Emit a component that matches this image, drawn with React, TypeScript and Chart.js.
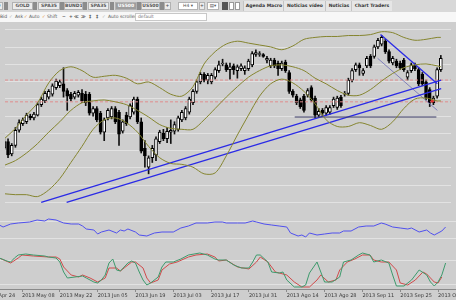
import React, { useEffect, useRef } from "react";
import { Chart, registerables } from "chart.js";

Chart.register(...registerables);

// ---------- data ----------
const FIRST_BAR = 4;
const openP = [7800,7870,7740,7830,7990,8060,8080,8140,8120,8150,
8260,8300,8340,8370,8440,8460,8480,8410,8370,8340,
8360,8380,8370,8370,8170,8220,8170,7970,8120,8130,
8220,8180,7980,8150,8130,8180,8320,8080,7800,7600,
7700,7730,7870,7960,7900,7970,7980,8000,8100,8120,
8180,8280,8400,8500,8580,8520,8500,8550,8620,8690,
8680,8630,8670,8620,8640,8620,8640,8680,8790,8790,
8790,8730,8670,8730,8700,8640,8710,8600,8400,8350,
8310,8350,8360,8440,8330,8150,8200,8170,8180,8250,
8230,8340,8370,8380,8520,8630,8680,8590,8670,8770,
8770,8870,8900,8930,8820,8700,8720,8700,8730,8550,
8620,8680,8630,8580,8500,8420,8280,8350,8630];
const highP = [7900,7900,7850,8020,8100,8120,8170,8160,8180,8280,
8340,8400,8420,8480,8530,8520,8650,8430,8390,8400,
8410,8420,8400,8390,8240,8240,8190,8120,8220,8240,
8240,8200,8100,8180,8270,8340,8340,8120,7880,7720,
7830,7920,7990,8000,8020,8100,8080,8140,8200,8240,
8340,8420,8520,8600,8600,8590,8590,8650,8720,8740,
8700,8700,8690,8680,8690,8670,8740,8820,8840,8820,
8800,8770,8750,8750,8720,8720,8730,8620,8420,8370,
8330,8370,8430,8460,8350,8220,8220,8250,8250,8340,
8350,8360,8400,8540,8640,8700,8700,8640,8770,8790,
8890,8960,8990,8950,8840,8770,8740,8720,8750,8620,
8700,8700,8650,8600,8520,8440,8350,8650,8780];
const lowP = [7780,7700,7720,7810,7970,8040,8060,8100,8100,8140,
8240,8280,8320,8350,8420,8440,8340,8200,8300,8320,
8340,8280,8250,8150,8140,8080,7950,7880,8100,8110,
8060,7830,7960,8040,8110,8160,8060,7750,7600,7530,
7650,7670,7850,7880,7860,7850,7950,7980,8080,8100,
8160,8260,8380,8480,8500,8480,8480,8530,8600,8670,
8610,8530,8580,8540,8620,8580,8620,8660,8770,8770,
8760,8700,8650,8650,8570,8620,8600,8380,8340,8260,
8220,8180,8340,8290,8120,8130,8140,8150,8160,8230,
8210,8230,8350,8360,8500,8610,8570,8570,8650,8650,
8750,8850,8880,8800,8700,8680,8650,8630,8610,8520,
8600,8620,8460,8460,8310,8240,8260,8330,8610];
const closeP = [7870,7730,7830,7990,8070,8100,8150,8120,8160,8260,
8320,8380,8400,8460,8510,8500,8400,8350,8320,8380,
8390,8300,8280,8170,8220,8100,7970,8100,8200,8220,
8080,7950,8080,8060,8250,8320,8080,7770,7720,7700,
7800,7900,7970,7900,7980,7990,8050,8120,8180,8220,
8320,8400,8500,8580,8520,8570,8570,8630,8680,8700,
8630,8660,8630,8660,8670,8650,8720,8800,8810,8800,
8770,8750,8730,8670,8640,8700,8620,8400,8360,8280,
8240,8200,8410,8310,8150,8190,8170,8230,8230,8320,
8330,8250,8380,8520,8620,8680,8650,8620,8750,8670,
8870,8940,8970,8820,8720,8750,8670,8650,8630,8600,
8680,8640,8480,8480,8330,8280,8330,8630,8750];
const barIdx = openP.map((_, k) => FIRST_BAR + k);

const tickIdx = [0, 10, 20, 30, 40, 50, 60, 70, 80, 90, 100, 110, 120];
const tickLabels = ["2013 Apr 24", "2013 May 08", "2013 May 22", "2013 Jun 05", "2013 Jun 19", "2013 Jul 03", "2013 Jul 17", "2013 Jul 31", "2013 Ago 14", "2013 Ago 28", "2013 Sep 11", "2013 Sep 25", "2013 Oct 09"];

const bandIdx = [4,7,10,13,16,19,22,25,28,31,34,37,40,43,46,49,52,55,58,61,64,67,70,73,76,79,82,85,88,91,94,97,100,103,106,109,112,115,118,121,122];
const bandUpper = [7900,8010,8150,8280,8490,8620,8660,8620,8550,8560,8570,8540,8480,8500,8440,8370,8350,8450,8690,8820,8900,8930,8910,8890,8870,8840,8880,8950,8970,8980,8980,8990,8990,9000,9030,9020,8970,8940,8950,8970,8970];
const bandMiddle = [7620,7670,7750,7850,7970,8080,8200,8280,8300,8310,8290,8260,8200,8130,8050,8010,8000,8000,8100,8220,8340,8450,8550,8620,8670,8680,8660,8620,8540,8480,8410,8360,8360,8420,8510,8590,8650,8680,8690,8670,8660];
const bandLower = [7320,7310,7310,7290,7360,7480,7650,7820,8000,8100,8120,8070,7970,7820,7700,7640,7630,7600,7530,7540,7720,7940,8150,8350,8480,8530,8490,8400,8270,8100,8030,8030,8070,8040,8000,8080,8220,8320,8330,8300,8300];

const priceGrid = [7230, 7412, 7594, 7776, 7958, 8140, 8322, 8504, 8686, 8868, 9050];
const levelPrices = [8520, 8290];
const trendAIdx = [13.96, 122.1];
const trendAPrice = [7230, 8520];
const trendBIdx = [20.84, 122.1];
const trendBPrice = [7230, 8430];
const downIdx = [105.7, 121.06];
const downPrice = [9000, 8480];
const channelIdx = [104.9, 121.06];
const channelPrice = [8750, 8200];
const supportIdx = [82.5, 120.8];
const supportPrice = [8130, 8130];
const markerIdx = [119.7];
const markerPrice = [8300];

const rsiIdx = [4,5,7,9,12,14,16,17,19,21,23,25,26,27,29,30,31,33,35,36,37,38,40,41,43,45,47,50,52,54,56,59,61,63,64,67,69,71,72,74,76,78,80,81,83,84,85,86,88,90,92,94,95,97,99,101,103,105,106,108,110,112,113,115,117,118,119,121,122];
const rsiVal = [62.5,57.5,65,67.5,70,75,72.5,77.5,75,67.5,65,65,60,52.5,50,40,45,50,42.5,50,47.5,52.5,45,37.5,35,42.5,45,45,55,60,67.5,67.5,70,70,67.5,67.5,67.5,72.5,70,65,62.5,60,57.5,42.5,35,37.5,32.5,42.5,37.5,40,42.5,42.5,47.5,47.5,57.5,60,60,67.5,65,57.5,55,52.5,55,45,50,42.5,37.5,47.5,57.5];
const rsiGrid = [30, 70];

const stochKIdx = [4,6,7,8,9,11,13,16,17,19,20,21,22,24,26,27,29,30,31,32,33,34,35,36,37,38,39,40,41,42,43,44,46,47,48,50,52,54,57,59,61,62,64,66,68,70,71,72,73,75,76,78,79,80,82,84,85,86,88,89,90,92,94,95,97,99,100,102,103,105,107,108,109,111,113,115,117,118,119,120,121,122];
const stochK = [85,77.5,75,85,92.5,95,92.5,90,87.5,85,75,50,35,37.5,40,35,25,22.5,30,42.5,72.5,82.5,55,52.5,62.5,72.5,77.5,72.5,50,30,17.5,22.5,37.5,62.5,75,75,82.5,92.5,97.5,92.5,82.5,80,80,67.5,60,60,75,92.5,92.5,75,50,47.5,50,30,12.5,12.5,17.5,47.5,75,50,25,25,37.5,75,80,92.5,97.5,92.5,75,80,72.5,42.5,15,15,30,55,42.5,25,15,25,42.5,72.5];
const stochDIdx = [4,7,9,10,13,17,19,20,21,23,25,26,28,30,32,33,35,36,37,39,40,42,43,44,46,47,49,51,54,56,59,61,62,64,67,70,72,73,75,77,78,80,82,84,86,88,89,91,93,94,96,98,100,102,103,105,107,109,110,112,114,116,117,119,120,121];
const stochD = [85,72.5,85,92.5,90,87.5,87.5,82.5,62.5,42.5,37.5,42.5,35,25,35,60,60,52.5,60,75,75,60,35,22.5,30,55,70,75,87.5,92.5,95,87.5,77.5,80,62.5,57.5,75,87.5,75,50,47.5,42.5,25,12.5,12.5,30,42.5,25,30,55,75,82.5,92.5,92.5,80,75,75,55,22.5,17.5,30,50,45,25,22.5,37.5];
const stochGrid = [20, 80];

// ---------- layout ----------
const W = 456;
const X_MIN = 4.18;
const X_MAX = 124.75;
const FONT = "'DejaVu Sans', Verdana, sans-serif";
const GRID = "#e2e2e2";

function lineDs(xs: number[], ys: number[], color: string, width: number, extra: any = {}) {
  return {
    type: "line",
    data: xs.map((x, k) => ({ x, y: ys[k] })),
    borderColor: color,
    backgroundColor: color,
    borderWidth: width,
    pointRadius: 0,
    fill: false,
    tension: 0,
    order: 0,
    ...extra,
  };
}

function yScale(min: number, max: number, grid: number[]) {
  return {
    type: "linear",
    min,
    max,
    beginAtZero: false,
    position: "right",
    grid: { color: GRID, drawTicks: false, lineWidth: 1 },
    border: { display: false },
    ticks: { display: false },
    afterBuildTicks: (s: any) => {
      s.ticks = grid.map((v) => ({ value: v }));
    },
    afterFit: (s: any) => {
      s.width = 0;
    },
  };
}

function hiddenX() {
  return { type: "linear", min: X_MIN, max: X_MAX, offset: false, display: false };
}

function baseOpts(scales: any) {
  return {
    animation: false,
    responsive: false,
    maintainAspectRatio: false,
    devicePixelRatio: 1,
    events: [],
    layout: { padding: 0 },
    plugins: { legend: { display: false }, tooltip: { enabled: false } },
    scales,
  };
}

function useChart(ref: any, makeConfig: () => any) {
  useEffect(() => {
    const c = new Chart(ref.current, makeConfig());
    return () => c.destroy();
  }, []);
}

function PriceChart() {
  const ref = useRef<HTMLCanvasElement>(null);
  useChart(ref, () => ({
    type: "bar",
    data: {
      datasets: [
        {
          type: "bar",
          data: barIdx.map((x, k) => ({ x, y: [lowP[k], highP[k]] })),
          backgroundColor: "#111111",
          barThickness: 1,
          grouped: false,
          order: 5,
        },
        {
          type: "bar",
          data: barIdx.map((x, k) => ({ x, y: [openP[k], closeP[k]] })),
          backgroundColor: barIdx.map((_, k) => (closeP[k] > openP[k] ? "#ffffff" : "#000000")),
          borderColor: "#000000",
          borderWidth: 1,
          borderSkipped: false,
          barThickness: 3,
          grouped: false,
          order: 4,
        },
        lineDs(bandIdx, bandUpper, "#85852f", 1, { tension: 0.3 }),
        lineDs(bandIdx, bandMiddle, "#85852f", 1, { tension: 0.3 }),
        lineDs(bandIdx, bandLower, "#85852f", 1, { tension: 0.3 }),
        lineDs([X_MIN, X_MAX], [levelPrices[0], levelPrices[0]], "#e08c8c", 1, { borderDash: [3, 2], order: 3 }),
        lineDs([X_MIN, X_MAX], [levelPrices[1], levelPrices[1]], "#e08c8c", 1, { borderDash: [3, 2], order: 3 }),
        lineDs(supportIdx, supportPrice, "#3a3a66", 1),
        lineDs(trendAIdx, trendAPrice, "#2a2ae6", 1.3),
        lineDs(trendBIdx, trendBPrice, "#2a2ae6", 1.3),
        lineDs(downIdx, downPrice, "#2a2ae6", 1.3),
        lineDs(channelIdx, channelPrice, "#6c6cb4", 0.8),
        {
          type: "scatter",
          data: markerIdx.map((x, k) => ({ x, y: markerPrice[k] })),
          pointStyle: "rect",
          pointRadius: 1.5,
          backgroundColor: "#e03030",
          borderColor: "#e03030",
          order: 0,
        },
      ],
    },
    options: baseOpts({ x: hiddenX(), y: yScale(7180, 9080, priceGrid) }),
  }));
  return <canvas ref={ref} width={W} height={190} style={{ position: "absolute", left: 0, top: 22, width: W, height: 190 }} />;
}

function RsiChart() {
  const ref = useRef<HTMLCanvasElement>(null);
  useChart(ref, () => ({
    type: "line",
    data: { datasets: [lineDs(rsiIdx, rsiVal, "#5050ee", 1)] },
    options: baseOpts({ x: hiddenX(), y: yScale(12.5, 95, rsiGrid) }),
  }));
  return <canvas ref={ref} width={W} height={33} style={{ position: "absolute", left: 0, top: 212, width: W, height: 33 }} />;
}

function StochChart() {
  const ref = useRef<HTMLCanvasElement>(null);
  useChart(ref, () => ({
    type: "line",
    data: {
      datasets: [
        lineDs(stochKIdx, stochK, "#3d9a6c", 1),
        lineDs(stochDIdx, stochD, "#d04a4a", 1),
      ],
    },
    options: baseOpts({
      x: {
        type: "linear",
        min: X_MIN,
        max: X_MAX,
        offset: false,
        position: "bottom",
        grid: { drawOnChartArea: false, drawTicks: true, tickLength: 3, color: "#8a8a8a" },
        border: { display: true, color: "#8a8a8a", width: 1 },
        ticks: {
          autoSkip: false,
          maxRotation: 0,
          minRotation: 0,
          align: "start",
          padding: 1,
          color: "#3a3a3a",
          font: { size: 5, family: FONT },
          callback: (v: number) => {
            const k = tickIdx.indexOf(v);
            return k >= 0 ? tickLabels[k] : "";
          },
        },
        afterBuildTicks: (s: any) => {
          s.ticks = tickIdx.map((v) => ({ value: v }));
        },
        afterFit: (s: any) => {
          s.height = 11;
          s.paddingLeft = 0;
          s.paddingRight = 0;
        },
      },
      y: yScale(7.5, 117.5, stochGrid),
    }),
  }));
  return <canvas ref={ref} width={W} height={55} style={{ position: "absolute", left: 0, top: 245, width: W, height: 55 }} />;
}

// ---------- toolbar ----------
const txt: any = { position: "absolute", fontFamily: FONT, fontSize: 4.5, whiteSpace: "nowrap", lineHeight: "6px" };

function Btn({ left, width, label, sel }: any) {
  return (
    <div style={{ ...txt, left, top: 2, width, height: 8, boxSizing: "border-box", border: "1px solid #b2b2b2", background: sel ? "#9e9e9e" : "#ececec", color: sel ? "#ffffff" : "#555555", textAlign: "center", fontWeight: "bold", overflow: "hidden" }}>
      {label}
    </div>
  );
}
function Sq({ left }: any) {
  return <div style={{ position: "absolute", left, top: 2, width: 4, height: 8, background: "#8c8c8c" }} />;
}
function T({ left, top, children, color, bold }: any) {
  return <div style={{ ...txt, left, top, color: color || "#555555", fontWeight: bold ? "bold" : "normal" }}>{children}</div>;
}

function Toolbar() {
  const tabs = [
    { l: 243, w: 40, t: "Agenda Macro" },
    { l: 283, w: 42, t: "Noticias vídeo" },
    { l: 325, w: 26, t: "Noticias" },
    { l: 351, w: 40, t: "Chart Traders" },
  ];
  return (
    <>
      <div style={{ position: "absolute", left: 0, top: 0, width: W, height: 12, background: "#d8d8d8" }} />
      <div style={{ position: "absolute", left: 0, top: 12, width: W, height: 10, background: "#f7f7f7" }} />
      <Btn left={-12} width={15} label="ESD" />
      <Sq left={4} />
      <Btn left={12} width={21} label="GOLD" />
      <Sq left={33} />
      <Btn left={38} width={22} label="SPA35" />
      <Sq left={60} />
      <Btn left={64} width={19} label="BUND10Y" />
      <Sq left={83} />
      <Btn left={88} width={21} label="SPA35" />
      <Sq left={110} />
      <Btn left={115} width={22} label="US500" sel />
      <Sq left={137} />
      <Btn left={141} width={19} label="US500" />
      <Sq left={160} />
      <Btn left={164} width={7} label="+" />
      <div style={{ ...txt, left: 178, top: 2, width: 20, height: 8, boxSizing: "border-box", border: "1px solid #b2b2b2", background: "#ffffff", color: "#555", textAlign: "center" }}>H4 ▾</div>
      <Btn left={199} width={6} label="+" />
      <div style={{ ...txt, left: 207, top: 2, width: 12, height: 8, boxSizing: "border-box", border: "1px solid #b2b2b2", background: "#ffffff", color: "#555", textAlign: "center" }}>▤▾</div>
      <div style={{ position: "absolute", left: 222, top: 2, width: 6, height: 8, background: "#555" }} />
      <div style={{ position: "absolute", left: 229, top: 2, width: 5, height: 8, border: "1px solid #999", boxSizing: "border-box", background: "#fff" }} />
      <div style={{ position: "absolute", left: 235, top: 2, width: 5, height: 8, border: "1px solid #999", boxSizing: "border-box", background: "#fff" }} />
      {tabs.map((tb, i) => (
        <div key={i} style={{ ...txt, left: tb.l, top: 1, width: tb.w, height: 10, lineHeight: "10px", textAlign: "center", color: "#333", borderLeft: "1px solid #c4c4c4", background: "#e6e6e6", fontWeight: "bold" }}>
          {tb.t}
        </div>
      ))}
      <T left={0} top={14}>Bid</T>
      <T left={9} top={14} color="#aaa">✓</T>
      <T left={15} top={14}>Ask</T>
      <T left={24} top={14} color="#e08020" bold>✓</T>
      <T left={29} top={14}>Auto</T>
      <T left={42} top={14} color="#e08020" bold>✓</T>
      <T left={47} top={14}>Shift</T>
      <T left={62} top={14} bold>−</T>
      <T left={69} top={14} bold>+</T>
      <T left={74} top={14} bold>≪</T>
      <T left={81} top={14} bold>≫</T>
      <T left={89} top={14} bold>‡</T>
      <T left={96} top={14} bold>‡</T>
      <T left={102} top={14} color="#aaa">✓</T>
      <T left={108} top={14}>Auto scroller</T>
      <div style={{ ...txt, left: 135, top: 13, width: 72, height: 8, boxSizing: "border-box", border: "1px solid #c8c8c8", background: "#ffffff", color: "#777", paddingLeft: 2 }}>default</div>
    </>
  );
}

export default function App() {
  return (
    <div style={{ position: "fixed", left: 0, top: 0, width: W, height: 300, overflow: "hidden", background: "#cecece" }}>
      <Toolbar />
      <PriceChart />
      <RsiChart />
      <StochChart />
    </div>
  );
}
